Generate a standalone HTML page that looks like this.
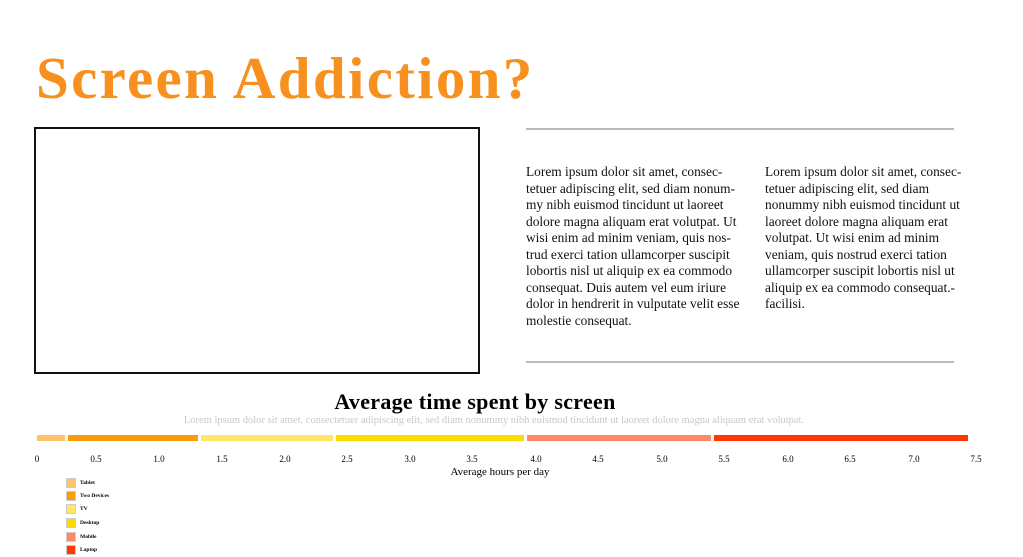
<!DOCTYPE html>
<html><head><meta charset="utf-8"><style>
body{margin:0;width:1023px;height:557px;background:#fff;position:relative;overflow:hidden;font-family:"Liberation Serif",serif;}
.a{position:absolute;}
h1{position:absolute;left:36px;top:44px;margin:0;font-size:59px;font-weight:bold;letter-spacing:2.3px;white-space:nowrap;color:#f7901e;}
.col{position:absolute;top:164px;font-size:13.4px;line-height:16.5px;color:#111;white-space:nowrap;}
.bar{position:absolute;top:435px;height:6px;}
.t{position:absolute;top:454px;font-size:9px;transform:translateX(-50%);}
.lg{position:absolute;left:66px;width:8px;height:8px;border:1px solid #ccc;}
.lt{position:absolute;left:80px;font-size:5.5px;font-weight:bold;}
</style></head><body>
<h1>Screen Addiction?</h1>
<div class="a" style="left:34px;top:127px;width:442px;height:243px;border:2px solid #111;"></div>
<div class="a" style="left:526px;top:128px;width:428px;height:2px;background:#bbb;"></div>
<div class="a" style="left:526px;top:361px;width:428px;height:2px;background:#bbb;"></div>
<div class="col" style="left:526px;">Lorem ipsum dolor sit amet, consec-<br>tetuer adipiscing elit, sed diam nonum-<br>my nibh euismod tincidunt ut laoreet<br>dolore magna aliquam erat volutpat. Ut<br>wisi enim ad minim veniam, quis nos-<br>trud exerci tation ullamcorper suscipit<br>lobortis nisl ut aliquip ex ea commodo<br>consequat. Duis autem vel eum iriure<br>dolor in hendrerit in vulputate velit esse<br>molestie consequat.</div>
<div class="col" style="left:765px;">Lorem ipsum dolor sit amet, consec-<br>tetuer adipiscing elit, sed diam<br>nonummy nibh euismod tincidunt ut<br>laoreet dolore magna aliquam erat<br>volutpat. Ut wisi enim ad minim<br>veniam, quis nostrud exerci tation<br>ullamcorper suscipit lobortis nisl ut<br>aliquip ex ea commodo consequat.-<br>facilisi.</div>
<div class="a" style="left:0;width:950px;top:389px;text-align:center;font-size:22px;font-weight:bold;letter-spacing:0.3px;">Average time spent by screen</div>
<div class="a" style="left:0;width:988px;top:415px;text-align:center;font-size:10.5px;color:#c8c8c8;">Lorem ipsum dolor sit amet, consectetuer adipiscing elit, sed diam nonummy nibh euismod tincidunt ut laoreet dolore magna aliquam erat volutpat.</div>
<div class="bar" style="left:37px;width:28px;background:#fec36a"></div>
<div class="bar" style="left:68px;width:130px;background:#f99c06"></div>
<div class="bar" style="left:201px;width:132px;background:#ffe866"></div>
<div class="bar" style="left:336px;width:188px;background:#fbdc00"></div>
<div class="bar" style="left:527px;width:184px;background:#ff8868"></div>
<div class="bar" style="left:714px;width:254px;background:#ff3700"></div>
<div class="t" style="left:37px">0</div><div class="t" style="left:96px">0.5</div><div class="t" style="left:159px">1.0</div><div class="t" style="left:222px">1.5</div><div class="t" style="left:285px">2.0</div><div class="t" style="left:347px">2.5</div><div class="t" style="left:410px">3.0</div><div class="t" style="left:472px">3.5</div><div class="t" style="left:536px">4.0</div><div class="t" style="left:598px">4.5</div><div class="t" style="left:662px">5.0</div><div class="t" style="left:724px">5.5</div><div class="t" style="left:788px">6.0</div><div class="t" style="left:850px">6.5</div><div class="t" style="left:914px">7.0</div><div class="t" style="left:976px">7.5</div>
<div class="a" style="left:0;width:1000px;top:466px;text-align:center;font-size:11px;">Average hours per day</div>
<div class="lg" style="top:478px;background:#fec36a"></div><div class="lt" style="top:480px">Tablet</div>
<div class="lg" style="top:491px;background:#f99c06"></div><div class="lt" style="top:493px">Two Devices</div>
<div class="lg" style="top:504px;background:#ffe866"></div><div class="lt" style="top:506px">TV</div>
<div class="lg" style="top:518px;background:#fbdc00"></div><div class="lt" style="top:520px">Desktop</div>
<div class="lg" style="top:532px;background:#ff8868"></div><div class="lt" style="top:534px">Mobile</div>
<div class="lg" style="top:545px;background:#ff3700"></div><div class="lt" style="top:547px">Laptop</div>
</body></html>
